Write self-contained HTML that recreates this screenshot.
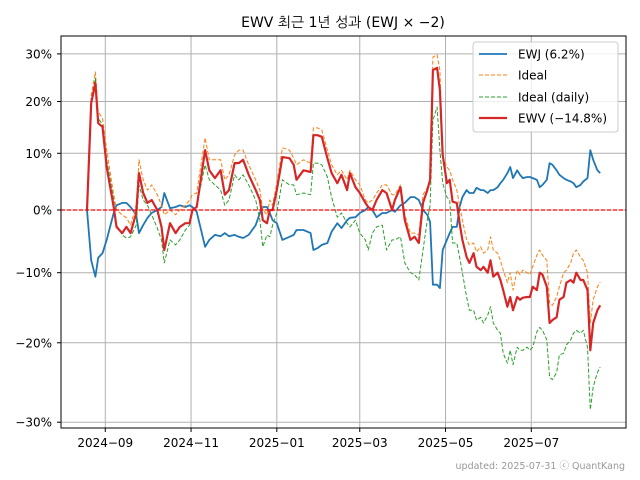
<!DOCTYPE html>
<html><head><meta charset="utf-8"><style>
body{margin:0;background:#fff;}
svg{display:block;font-family:"DejaVu Sans","NanumGothic","Noto Sans CJK KR",sans-serif;}
</style></head><body>
<svg id="chart" width="640" height="480" viewBox="0 0 640 480" xmlns="http://www.w3.org/2000/svg">
<rect width="640" height="480" fill="#fff"/>
<text x="343" y="27" text-anchor="middle" font-size="14" fill="#000">EWV 최근 1년 성과 (EWJ × −2)</text>
<g id="grid"></g>
<g id="series"></g>
<rect x="61" y="36" width="565" height="392" fill="none" stroke="#000" stroke-width="1"/>
<g id="axes"></g>
<g>
<rect x="473" y="42" width="145" height="90" rx="3" fill="#fff" fill-opacity="0.8" stroke="#ccc"/>
<g><line x1="479" y1="54" x2="507" y2="54" stroke="#1f77b4" stroke-width="1.8"/><text x="518" y="58.5" font-size="12">EWJ (6.2%)</text></g>
<g><line x1="479" y1="75" x2="507" y2="75" stroke="#ff7f0e" stroke-width="1" stroke-dasharray="4,2"/><text x="518" y="79.5" font-size="12">Ideal</text></g>
<g><line x1="479" y1="97" x2="507" y2="97" stroke="#2ca02c" stroke-width="1" stroke-dasharray="4,2"/><text x="518" y="101.5" font-size="12">Ideal (daily)</text></g>
<g><line x1="479" y1="118" x2="507" y2="118" stroke="#d62728" stroke-width="2.2"/><text x="518" y="122.5" font-size="12">EWV (−14.8%)</text></g>
</g>
<text x="625" y="469" text-anchor="end" font-size="9.5" fill="#999">updated: 2025-07-31 ⓒ QuantKang</text>
</svg>
<script>
const days=[0,3,6,8,11,14,19,21,25,28,31,35,37,40,43,46,50,53,55,59,63,66,70,73,75,78,84,87,91,95,98,101,105,108,111,115,120,123,125,128,130,132,135,139,144,147,149,154,159,161,164,167,171,174,178,181,185,187,191,194,198,200,203,206,210,213,217,219,223,226,230,233,236,239,242,244,246,249,251,253,256,258,260,263,265,267,270,272,275,277,280,282,285,287,289,292,294,296,299,301,303,306,308,310,313,315,317,320,322,324,327,329,331,334,336,339,341,344,346,348,351,353,356,358,360,363,365];
const ewj=[0,-8.1,-10.6,-7.7,-7.0,-4.9,-0.5,0.8,1.2,1.2,0.5,-0.8,-3.8,-2.5,-1.3,-0.5,0,0.5,2.9,0.3,0.5,0.8,0.5,0.8,0.5,-0.3,-6.0,-4.9,-4.1,-4.3,-3.8,-4.3,-4.1,-4.4,-4.6,-4.1,-2.5,-0.5,0.5,0.5,-0.5,-1.7,-2.2,-4.9,-4.4,-4.1,-3.3,-3.3,-3.8,-6.5,-6.2,-5.7,-5.4,-3.6,-2.2,-3.0,-1.7,-1.3,-1.2,-0.5,0,0.5,0,-1.2,-0.5,-0.5,0,-0.3,0.8,1.2,2.2,2.2,1.7,0,-0.8,-2.0,-11.8,-11.8,-12.3,-6.5,-4.9,-3.8,-2.8,-2.8,0.5,2.2,3.4,2.9,2.9,3.8,3.4,3.4,2.9,3.4,3.4,3.9,4.6,5.2,6.4,7.5,5.5,6.9,6.1,5.5,5.7,5.7,5.5,5.2,3.9,4.3,5.2,8.2,7.9,6.9,6.1,5.5,5.2,4.9,4.6,3.9,4.3,4.9,5.5,10.6,8.8,6.9,6.4];
const ideal=[0,21.3,26.1,17.9,16.7,10.6,2.6,0,-0.8,-1.3,-2.5,0.8,8.8,5.2,3.4,4.3,2.6,0.8,-0.8,0,-0.8,0,0.8,1.7,2.6,2.9,12.9,8.8,8.8,8.8,5.2,6.1,9.7,10.6,10.6,7.9,5.2,3.4,0,-0.8,1.7,0.8,4.6,11.0,10.6,9.1,7.9,8.8,8.2,14.8,14.8,14.4,10.6,7.9,6.1,6.9,5.2,6.9,5.2,4.3,1.7,1.2,1.7,2.9,4.3,4.3,2.6,2.6,4.3,-0.8,-3.8,-3.8,-4.1,2.6,3.8,5.2,29.3,29.8,26.5,9.3,7.5,6.9,5.2,3.4,0.8,-1.7,-4.9,-5.7,-5.4,-6.8,-6.0,-7.0,-6.5,-4.4,-6.5,-7.0,-8.1,-9.6,-11.5,-10.0,-12.6,-9.6,-10.3,-9.6,-10.0,-10.3,-9.1,-7.3,-6.5,-7.3,-8.1,-14.5,-14.8,-13.6,-12.1,-10.0,-9.6,-8.5,-7.0,-6.5,-7.6,-8.1,-10.0,-17.3,-14.0,-12.1,-11.4];
const idealDaily=[0,20.3,24.8,16.7,15.4,8.8,1.7,-2.5,-4.1,-4.6,-4.4,-2.5,4.3,1.7,0.8,-0.8,-3.0,-4.9,-8.5,-4.9,-5.7,-4.9,-3.3,-2.5,-0.3,0.8,7.9,5.2,4.3,3.4,0.8,1.7,6.1,5.2,6.1,4.3,1.7,-1.7,-6.0,-4.1,-4.4,-2.5,-0.5,5.2,4.3,4.3,2.6,2.9,2.6,8.2,8.2,7.9,5.7,2.2,-1.2,-0.5,-2.2,-2.8,-1.7,-3.8,-4.9,-6.5,-3.8,-2.8,-2.5,-6.5,-4.9,-4.9,-4.4,-8.5,-10.0,-10.3,-11.1,-6.5,-1.7,0.8,16.3,18.9,10.6,4.6,2.2,1.7,-5.4,-5.4,-7.6,-10.0,-13.6,-15.5,-15.5,-16.9,-16.5,-17.3,-16.2,-15.0,-17.3,-18.3,-18.7,-21.4,-22.7,-21.0,-22.9,-20.6,-21.0,-21.0,-20.6,-21.0,-20.6,-18.5,-17.9,-18.3,-19.6,-24.5,-24.8,-23.9,-21.6,-21.4,-20.3,-19.6,-18.7,-18.3,-18.7,-18.3,-20.6,-28.5,-25.7,-23.9,-23.2];
const ewv=[0,19.7,23.8,15.7,15.0,7.5,0.5,-2.8,-3.8,-2.8,-3.8,-0.5,6.4,2.9,1.2,1.7,0,-2.8,-6.5,-2.2,-3.8,-2.8,-2.2,-2.2,0,0.5,10.6,6.9,5.5,6.9,2.6,3.4,8.2,8.2,8.8,6.1,3.4,1.7,-1.7,-2.2,0,0,3.4,9.3,9.1,7.9,5.2,6.9,6.6,13.4,13.4,13.1,9.1,6.4,4.6,6.1,3.4,6.4,3.9,2.9,1.2,0.5,0,1.7,3.4,2.9,0,1.7,3.9,-1.7,-4.9,-4.4,-5.4,1.2,3.4,5.2,26.5,27.0,22.3,9.7,4.6,5.2,1.4,1.2,-2.2,-4.9,-7.6,-8.5,-7.0,-9.1,-9.6,-9.1,-10.0,-8.1,-10.6,-10.0,-11.1,-12.6,-15.0,-13.6,-15.5,-13.6,-14.0,-13.7,-13.6,-13.6,-12.1,-12.6,-10.0,-10.3,-12.1,-17.3,-16.9,-16.5,-14.0,-13.6,-11.5,-11.1,-11.5,-10.0,-11.1,-11.1,-12.6,-21.0,-17.3,-15.5,-14.8];
const yTicks=[30,20,10,0,-10,-20,-30];
const xTickDates=["2024-09-01","2024-11-01","2025-01-01","2025-03-01","2025-05-01","2025-07-01"];
const xTickLabels=["2024−09","2024−11","2025−01","2025−03","2025−05","2025−07"];
const START=Date.UTC(2024,7,19);
const NS="http://www.w3.org/2000/svg";
function xScale(d){return 87+d*1.406;}
function yScale(p){return 210-595*Math.log(1+p/100);}
function dayOf(s){const a=s.split("-");return (Date.UTC(+a[0],+a[1]-1,+a[2])-START)/86400000;}
function mk(tag,attrs,parent){const e=document.createElementNS(NS,tag);for(const k in attrs)e.setAttribute(k,attrs[k]);parent.appendChild(e);return e;}
const grid=document.getElementById("grid"),axes=document.getElementById("axes"),series=document.getElementById("series");
yTicks.forEach(function(t){
  const y=yScale(t);
  const gl=mk("line",{x1:61,x2:626,y1:y,y2:y,stroke:"#b0b0b0","stroke-width":1},grid);
  
  
  const tk=mk("line",{x1:57,x2:61,y1:y,y2:y,stroke:"#000"},axes);
  
  
  const tx=mk("text",{x:52,y:y+4.5,"text-anchor":"end","font-size":12},axes);
  tx.textContent=(t<0?"−"+(-t):t)+"%";
  
  
});
xTickDates.forEach(function(s,i){
  const x=xScale(dayOf(s));
  const gl=mk("line",{x1:x,x2:x,y1:36,y2:428,stroke:"#b0b0b0","stroke-width":1},grid);
  
  
  const tk=mk("line",{x1:x,x2:x,y1:428,y2:432,stroke:"#000"},axes);
  
  
  const tx=mk("text",{x:x,y:447,"text-anchor":"middle","font-size":12},axes);
  tx.textContent=xTickLabels[i];
  
  
});
const zl=mk("line",{x1:61,x2:626,y1:yScale(0),y2:yScale(0),stroke:"#ff0000","stroke-width":1.2,"stroke-dasharray":"4,2"},series);


function draw(vals,color,w,dash,name){
  const d=vals.map(function(v,i){return (i?"L":"M")+xScale(days[i]).toFixed(1)+","+yScale(v).toFixed(1);}).join("");
  const a={d:d,fill:"none",stroke:color,"stroke-width":w,"stroke-linejoin":"round"};
  if(dash)a["stroke-dasharray"]=dash;
  const p=mk("path",a,series);
  
  
}
draw(ewj,"#1f77b4",1.8,null,"ewj-line");
draw(ideal,"#ff7f0e",1,"4,2","ideal-line");
draw(idealDaily,"#2ca02c",1,"4,2","ideal-daily-line");
draw(ewv,"#d62728",2.2,null,"ewv-line");
series.appendChild(zl);
</script>
</body></html>
